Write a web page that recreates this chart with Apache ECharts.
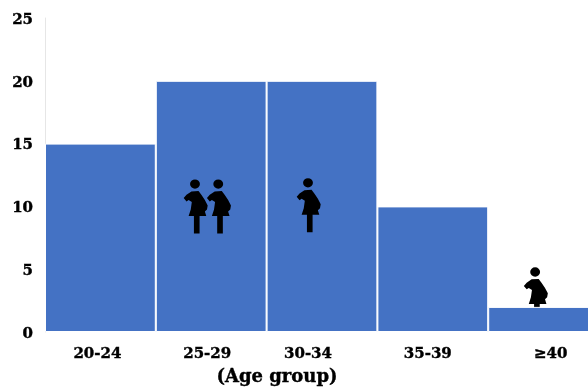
<!DOCTYPE html>
<html lang="en">
<head>
    <meta charset="UTF-8">
    <title>Age group</title>
    <script src="https://cdn.jsdelivr.net/npm/echarts@6/dist/echarts.min.js"></script>
    <style>
        html, body { margin: 0; padding: 0; background: #fff; overflow: hidden; }
        #chart1 { width: 588px; height: 389px; }
    </style>
</head>
<body>
    <div id="chart1"></div>
    <script type="text/javascript">
        var categories = ['20-24', '25-29', '30-34', '35-39', '≥40'];
        var counts = [15, 20, 20, 10, 2];
        var yTicks = [0, 5, 10, 15, 20, 25];
        // pregnant woman pictograms, [age position, height on the count axis]
        var iconsOnBars = [[1.36, 10], [1.57, 10], [2.38, 10.1]];
        var iconsBehindBars = [[4.43, 3]];

        var fontFamily = '"DejaVu Serif", serif';
        // woman with head, arm on hip, belly and one leg
        var womanPath = 'path://M18 14a14 14 0 1 0 28 0a14 14 0 1 0 -28 0Z' +
            'M22 36L42 35L50 46L60 62L68 78L66 90L60 96L64 110L45 110L45 162L29 162L29 110L14 110L20 90L23 68L14 62L8 66L0 56L8 46Z';
        // moves the category labels, they are not quite centred in the original
        var labelPads = [[0, 6, 0, 0], [0, 8, 0, 0], [0, 28, 0, 0], [0, 10, 0, 0], [0, 0, 0, 14]];

        var chart1 = echarts.init(document.getElementById('chart1'));
        var option = {
            animation: false,
            backgroundColor: '#fff',
            grid: { left: 45, width: 554, top: 18, height: 314, outerBoundsMode: 'none' },
            xAxis: [{
                type: 'category',
                data: categories.map(function (name, i) {
                    return { value: name, textStyle: { padding: labelPads[i] } };
                }),
                name: '(Age group)',
                nameLocation: 'middle',
                nameGap: 36,
                nameTextStyle: {
                    color: '#000',
                    fontFamily: fontFamily,
                    fontWeight: 'bold',
                    fontSize: 18,
                    textBorderColor: '#000',
                    textBorderWidth: 0.4,
                    padding: [0, 90, 0, 0]
                },
                axisLine: { show: false },
                axisTick: { show: false },
                axisLabel: {
                    interval: 0,
                    margin: 15,
                    color: '#000',
                    fontFamily: fontFamily,
                    fontWeight: 'bold',
                    fontSize: 15,
                    textBorderColor: '#000',
                    textBorderWidth: 0.4
                }
            }, {
                // only places the pictograms inside the age groups
                type: 'value',
                min: 0,
                max: categories.length,
                show: false
            }],
            yAxis: {
                type: 'value',
                min: yTicks[0],
                max: yTicks[yTicks.length - 1],
                interval: 5,
                splitLine: { show: false },
                axisTick: { show: false },
                axisLine: { show: true, lineStyle: { color: '#e6e6e6', width: 1 } },
                axisLabel: {
                    margin: 12,
                    formatter: '{tick|{value}}',
                    rich: {
                        tick: {
                            padding: [4, 0, 0, 0],
                            color: '#000',
                            fontFamily: fontFamily,
                            fontWeight: 'bold',
                            fontSize: 15,
                            textBorderColor: '#000',
                            textBorderWidth: 0.4
                        }
                    }
                }
            },
            series: [{
                type: 'scatter',
                xAxisIndex: 1,
                z: 1,
                data: iconsBehindBars,
                symbol: womanPath,
                symbolSize: [24, 54],
                itemStyle: { color: '#000', opacity: 1 },
                silent: true
            }, {
                type: 'bar',
                z: 2,
                data: counts,
                barCategoryGap: 0,
                itemStyle: { color: '#4472c4', borderColor: '#fff', borderWidth: 1 }
            }, {
                type: 'scatter',
                xAxisIndex: 1,
                z: 3,
                data: iconsOnBars,
                symbol: womanPath,
                symbolSize: [24, 54],
                itemStyle: { color: '#000', opacity: 1 },
                silent: true
            }]
        };
        chart1.setOption(option);
    </script>
</body>
</html>
